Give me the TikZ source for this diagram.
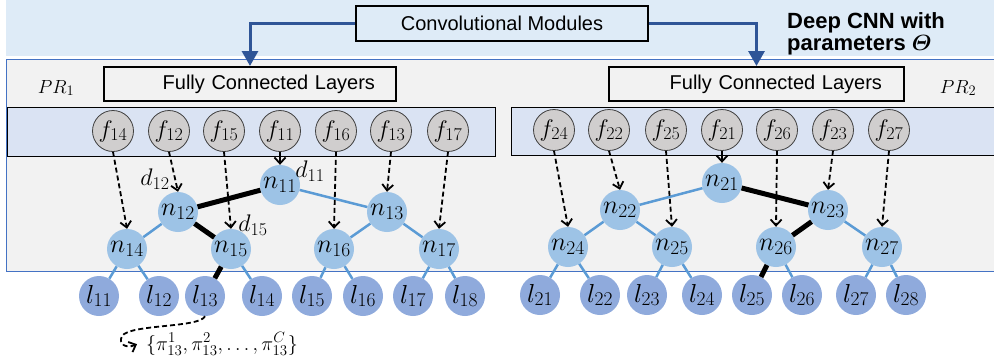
\RequirePackage{fix-cm}
\documentclass[tikz,border=0pt]{standalone}
\usepackage{amsmath,bm}
\usepackage{fontspec}
\setmainfont{Liberation Sans}
\usetikzlibrary{arrows.meta}

% larger sub/superscripts for the big math labels
\DeclareMathSizes{19}{19}{14.5}{11}
\DeclareMathSizes{20}{20}{15}{11}
\DeclareMathSizes{24}{24}{18}{13}
\DeclareMathSizes{26}{26}{19.5}{14}
\DeclareMathSizes{27}{27}{20}{15}

\definecolor{bannerblue}{HTML}{DEEBF7}
\definecolor{panelgray}{HTML}{F2F2F2}
\definecolor{panelline}{HTML}{4472C4}
\definecolor{stripblue}{HTML}{DAE3F3}
\definecolor{fgray}{HTML}{D0CECE}
\definecolor{innerblue}{HTML}{9DC3E6}
\definecolor{leafblue}{HTML}{8FAADC}
\definecolor{edgeblue}{HTML}{5B9BD5}
\definecolor{arrowblue}{HTML}{2F5597}

\tikzset{
  fnode/.style={circle, draw=black!75, line width=0.8pt, fill=fgray,
    minimum size=41pt, inner sep=0pt, font=\fontsize{24}{24}\selectfont},
  inode/.style={circle, fill=innerblue, minimum size=40pt, inner sep=0pt,
    font=\fontsize{26}{26}\selectfont},
  leafnode/.style={circle, fill=leafblue, minimum size=40pt, inner sep=0pt,
    font=\fontsize{26}{26}\selectfont},
  mathlabel/.style={inner sep=0pt, font=\fontsize{24}{24}\selectfont},
  layerbox/.style={draw=black, line width=2pt, minimum height=34pt,
    font=\fontsize{20}{24}\selectfont},
  tedge/.style={edgeblue, line width=2.5pt},
  pathedge/.style={black, line width=5pt},
  feedarrow/.style={black, line width=1.8pt, dash pattern=on 5pt off 3pt,
    -{Straight Barb[length=6pt,width=11pt]}},
  modarrow/.style={arrowblue, line width=3pt,
    -{Triangle[length=15pt,width=16pt]}},
}

\begin{document}
\begin{tikzpicture}[x=1pt,y=-1pt]
\useasboundingbox (0,0) rectangle (994,362);

% backgrounds
\fill[bannerblue] (6,0) rectangle (994,56);
\filldraw[fill=panelgray, draw=panelline, line width=1pt] (6,59) rectangle (1002,271);
\filldraw[fill=stripblue, draw=black, line width=0.8pt] (7,107) rectangle (495,156);
\filldraw[fill=stripblue, draw=black, line width=0.8pt] (511,107) rectangle (1002,155);

% modules
\node[layerbox, fill=bannerblue, minimum width=292pt, minimum height=35pt]
  (conv) at (502,23.5) {Convolutional Modules};
\node[layerbox, fill=panelgray, text width=250pt, align=right, inner xsep=21pt]
  (fcl1) at (250,84) {Fully Connected Layers};
\node[layerbox, fill=panelgray, text width=251pt, align=right, inner xsep=22pt]
  (fcl2) at (756.5,84) {Fully Connected Layers};
\draw[modarrow] (conv.west) -| (fcl1.north);
\draw[modarrow] (conv.east) -| (fcl2.north);

\node[anchor=base west, inner sep=0pt, font=\fontsize{22}{22}\bfseries]
  (cnna) at (787,28) {Deep CNN with};
\node[anchor=base west, inner sep=0pt, font=\fontsize{22}{22}\bfseries]
  (cnnb) at (787,50) {parameters $\boldsymbol{\varTheta}$};

\node[inner sep=0pt, font=\fontsize{19}{19}\selectfont] (pr1) at (56,88) {$PR_1$};
\node[inner sep=0pt, font=\fontsize{19}{19}\selectfont] (pr2) at (958,88) {$PR_2$};

% feature nodes
\foreach \i/\x in {14/113, 12/169, 15/224, 11/280, 16/336, 13/391, 17/448}
  \node[fnode] (f\i) at (\x,131) {$f_{\i}$};
\foreach \i/\x in {24/554, 22/609, 25/666, 21/722, 26/777, 23/833, 27/889}
  \node[fnode] (f\i) at (\x,130) {$f_{\i}$};

% tree 1
\node[inode] (n11) at (280,185) {$n_{11}$};
\node[inode] (n12) at (178,212) {$n_{12}$};
\node[inode] (n13) at (387,212) {$n_{13}$};
\node[inode] (n14) at (127,249) {$n_{14}$};
\node[inode] (n15) at (231,249) {$n_{15}$};
\node[inode] (n16) at (334,249) {$n_{16}$};
\node[inode] (n17) at (439,249) {$n_{17}$};
\foreach \i/\x in {11/99, 12/159, 13/205, 14/262, 15/312, 16/363, 17/413, 18/465}
  \node[leafnode] (l\i) at (\x,296) {$l_{\i}$};

% tree 2
\node[inode] (n21) at (722,183) {$n_{21}$};
\node[inode] (n22) at (620,210) {$n_{22}$};
\node[inode] (n23) at (828,210) {$n_{23}$};
\node[inode] (n24) at (568,247) {$n_{24}$};
\node[inode] (n25) at (672,247) {$n_{25}$};
\node[inode] (n26) at (776,247) {$n_{26}$};
\node[inode] (n27) at (882,247) {$n_{27}$};
\foreach \i/\x in {21/540, 22/600, 23/647, 24/702, 25/752, 26/802, 27/856, 28/906}
  \node[leafnode] (l\i) at (\x,295) {$l_{\i}$};

% tree edges
\draw[pathedge] (n11) -- (n12);
\draw[tedge] (n11) -- (n13);
\draw[tedge] (n12) -- (n14);
\draw[pathedge] (n12) -- (n15);
\draw[tedge] (n13) -- (n16);
\draw[tedge] (n13) -- (n17);
\draw[tedge] (n14) -- (l11);
\draw[tedge] (n14) -- (l12);
\draw[pathedge] (n15) -- (l13);
\draw[tedge] (n15) -- (l14);
\draw[tedge] (n16) -- (l15);
\draw[tedge] (n16) -- (l16);
\draw[tedge] (n17) -- (l17);
\draw[tedge] (n17) -- (l18);

\draw[tedge] (n21) -- (n22);
\draw[pathedge] (n21) -- (n23);
\draw[tedge] (n22) -- (n24);
\draw[tedge] (n22) -- (n25);
\draw[pathedge] (n23) -- (n26);
\draw[tedge] (n23) -- (n27);
\draw[tedge] (n24) -- (l21);
\draw[tedge] (n24) -- (l22);
\draw[tedge] (n25) -- (l23);
\draw[tedge] (n25) -- (l24);
\draw[pathedge] (n26) -- (l25);
\draw[tedge] (n26) -- (l26);
\draw[tedge] (n27) -- (l27);
\draw[tedge] (n27) -- (l28);

% features routed to the split nodes
\foreach \i in {14,12,15,16,13,17,24,22,25,26,23,27}
  \draw[feedarrow] (f\i.south) -- (n\i.north);
\draw[feedarrow, solid] (f11.south) -- (n11.north);
\draw[feedarrow, solid] (f21.south) -- (n21.north);

% distance labels
\node[mathlabel] (d12) at (155,179) {$d_{12}$};
\node[mathlabel] (d11) at (310,171) {$d_{11}$};
\node[mathlabel] (d15) at (253,225) {$d_{15}$};

% leaf class distribution
\node[anchor=base, inner ysep=0pt, inner xsep=9pt, font=\fontsize{20}{20}\selectfont]
  (pi) at (222,350) {$\{\pi_{13}^1,\pi_{13}^2,\ldots,\pi_{13}^C\}$};
\draw[feedarrow] (l13.south) .. controls (200,328) and (130,324) .. (122,336)
  .. controls (118,344) and (126,349) .. (pi.west);
\end{tikzpicture}
\end{document}
